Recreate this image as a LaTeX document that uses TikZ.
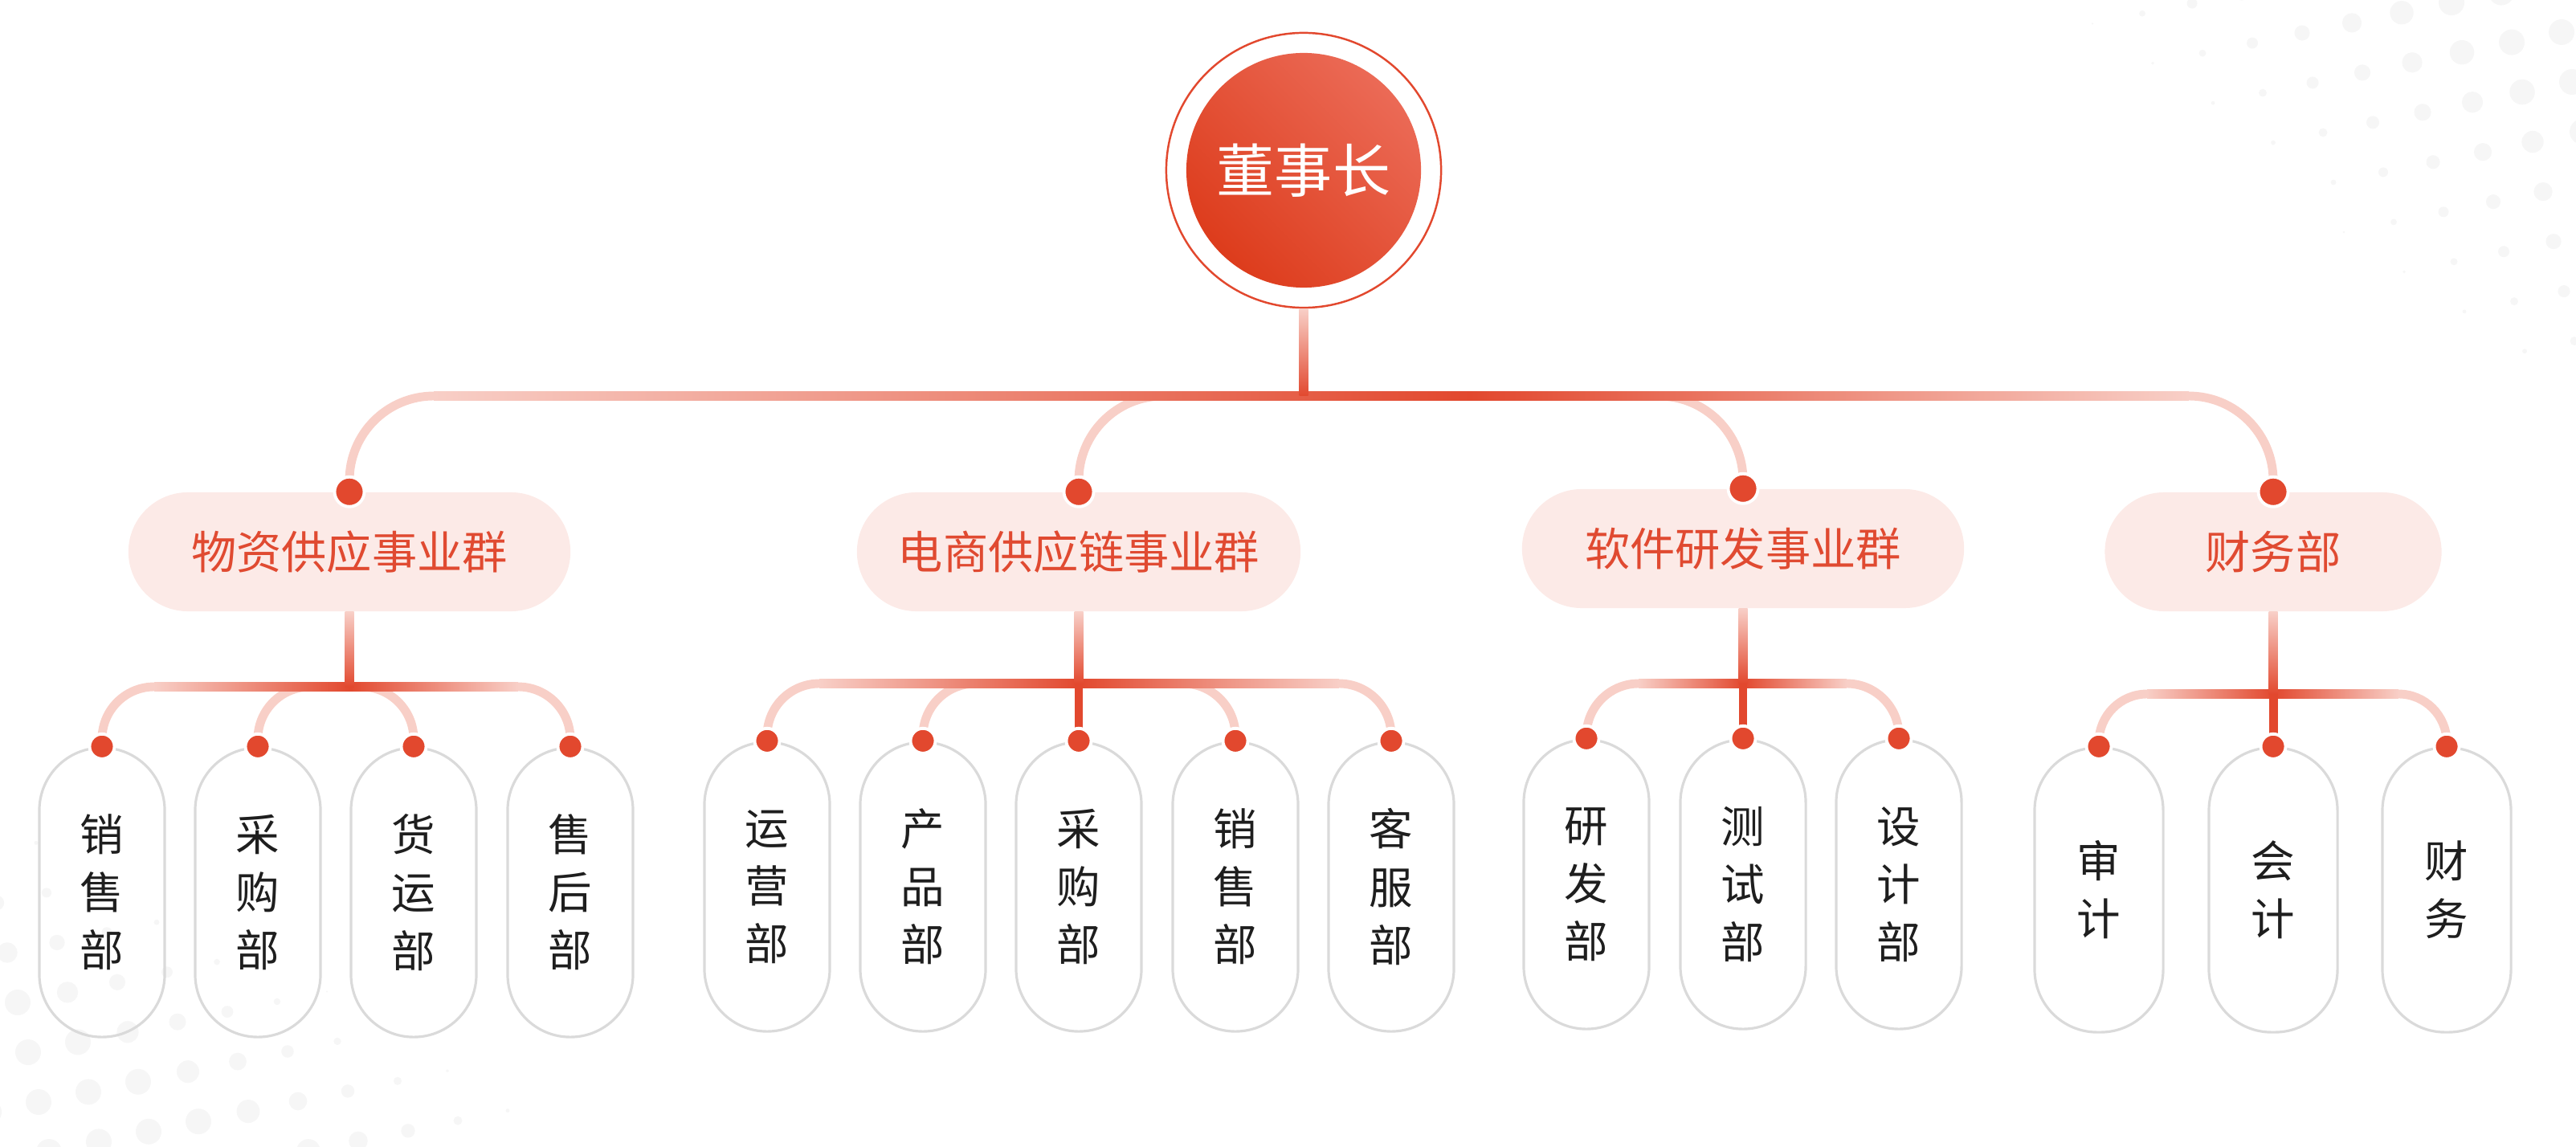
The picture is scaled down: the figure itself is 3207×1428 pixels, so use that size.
\documentclass[tikz,border=0pt]{standalone}
\usepackage{fontspec}
\setmainfont{Noto Sans CJK SC}
\usetikzlibrary{calc}
\definecolor{cred}{HTML}{E2482E}
\definecolor{cpale}{HTML}{F8CFC7}
\definecolor{cfill}{HTML}{FCEAE7}
\definecolor{ctext}{HTML}{E04A31}
\definecolor{cgray}{HTML}{DADADA}
\definecolor{cdot}{HTML}{F6F6F6}
\definecolor{cdark}{HTML}{DD3C1C}
\definecolor{clight}{HTML}{EB6A56}
\definecolor{cleaf}{HTML}{1E1E1E}
\begin{document}
\begin{tikzpicture}[x=0.01cm,y=-0.01cm,
  conn/.style={draw=cpale, line width=3.1pt},
  redconn/.style={draw=cred, line width=3.1pt},
  gpill/.style={rectangle, rounded corners=0.74cm, fill=cfill, minimum height=1.48cm, inner sep=0pt, text=ctext, font=\fontsize{16}{16}\selectfont},
  leafbox/.style={rectangle, rounded corners=0.78cm, draw=cgray, line width=0.9pt, minimum width=1.56cm, minimum height=3.6cm, inner sep=0pt, align=center, text=cleaf, font=\fontsize{15.5}{20.5}\selectfont},
  gdot/.style={circle, fill=cred, draw=white, line width=1.1pt, minimum size=0.37cm, inner sep=0pt},
  ldot/.style={circle, fill=cred, draw=white, line width=1.1pt, minimum size=0.31cm, inner sep=0pt}]
\useasboundingbox (0,0) rectangle (3207,1428);
% background halftone dots
\begin{scope}
\clip (0,0) rectangle (3207,1428);
\foreach \i in {-1,...,12}{
  \foreach \j in {-1,...,13}{
    \pgfmathsetmacro\xx{2530+62*\i+13*\j}
    \pgfmathsetmacro\yy{-20-12.6*\i+62*\j}
    \pgfmathsetmacro\rr{min(16,(\xx-2530-1.2*\yy)/30)}
    \ifdim\rr pt>1pt \fill[cdot] (\xx,\yy) circle[radius=\rr]; \fi
  }}
\foreach \i in {-2,...,12}{
  \foreach \j in {-2,...,10}{
    \pgfmathsetmacro\xx{-30+62*\i+13*\j}
    \pgfmathsetmacro\yy{1000-12.6*\i+62*\j}
    \pgfmathsetmacro\rr{min(16,0.065*((\yy-1000)-0.571*\xx)+1)}
    \ifdim\rr pt>1pt \fill[cdot] (\xx,\yy) circle[radius=\rr]; \fi
  }}
\end{scope}

% root
\node[circle, minimum size=3.42cm, draw=cred, line width=0.7pt, fill=white, inner sep=0pt] (ring) at (1623,212) {};
\node[circle, minimum size=2.92cm, inner sep=0pt, top color=clight, bottom color=cdark, shading angle=-45, text=white, font=\fontsize{20.5}{20.5}\selectfont] (root) at (1623,212) {董事长};

% groups
\node[gpill, minimum width=5.5cm] (g1) at (435,687) {物资供应事业群};
\node[gpill, minimum width=5.52cm] (g2) at (1343,687) {电商供应链事业群};
\node[gpill, minimum width=5.5cm] (g3) at (2170,683) {软件研发事业群};
\node[gpill, minimum width=4.19cm] (g4) at (2830,687) {财务部};

% leaves
\node[leafbox] (l11) at (127,1111) {销\\售\\部};
\node[leafbox] (l12) at (321,1111) {采\\购\\部};
\node[leafbox] (l13) at (515,1111) {货\\运\\部};
\node[leafbox] (l14) at (710,1111) {售\\后\\部};
\node[leafbox] (l21) at (955,1104) {运\\营\\部};
\node[leafbox] (l22) at (1149,1104) {产\\品\\部};
\node[leafbox] (l23) at (1343,1104) {采\\购\\部};
\node[leafbox] (l24) at (1538,1104) {销\\售\\部};
\node[leafbox] (l25) at (1732,1104) {客\\服\\部};
\node[leafbox] (l31) at (1975,1101) {研\\发\\部};
\node[leafbox] (l32) at (2170,1101) {测\\试\\部};
\node[leafbox] (l33) at (2364,1101) {设\\计\\部};
\node[leafbox, minimum width=1.6cm, minimum height=3.54cm] (l41) at (2613,1108) {审\\计};
\node[leafbox, minimum width=1.6cm, minimum height=3.54cm] (l42) at (2830,1108) {会\\计};
\node[leafbox, minimum width=1.6cm, minimum height=3.54cm] (l43) at (3046,1108) {财\\务};

% main connectors
\coordinate (b0) at (1623,493);
\coordinate (b2) at (1480,493);
\coordinate (b3) at (2035,493);
\draw[conn, rounded corners=1.05cm] (g1.north) |- (b0) -| (g4.north);
\draw[conn, rounded corners=1.05cm] (g2.north) |- (b2);
\draw[conn, rounded corners=1.05cm] (g3.north) |- (b3);
\shade[left color=cpale, right color=cred] (540,487.5) rectangle (1830,498.5);
\shade[left color=cred, right color=cpale] (1830,487.5) rectangle (2725,498.5);
\shade[top color=cpale, bottom color=cred] ($(ring.south)+(-5.5,0)$) rectangle ($(b0)+(5.5,0)$);

% group 1
\coordinate (s1) at (435,855);
\draw[conn, rounded corners=0.65cm] (l11.north) |- (s1) -| (l14.north);
\draw[conn, rounded corners=0.65cm] (l12.north) |- (s1) -| (l13.north);
\shade[left color=cpale, right color=cred] (192,849.5) rectangle (435,860.5);
\shade[left color=cred, right color=cpale] (435,849.5) rectangle (645,860.5);
\shade[top color=cpale, bottom color=cred] ($(g1.south)+(-5.5,0)$) rectangle ($(s1)+(5.5,0)$);

% group 2
\coordinate (s2) at (1343,851);
\draw[conn, rounded corners=0.65cm] (l21.north) |- (s2) -| (l25.north);
\draw[conn, rounded corners=0.65cm] (l22.north) |- (s2) -| (l24.north);
\shade[left color=cpale, right color=cred] (1020,845.5) rectangle (1343,856.5);
\shade[left color=cred, right color=cpale] (1343,845.5) rectangle (1667,856.5);
\shade[top color=cpale, bottom color=cred] ($(g2.south)+(-5.5,0)$) rectangle ($(s2)+(5.5,0)$);
\draw[redconn] (s2) -- (l23.north);

% group 3
\coordinate (s3) at (2170,851);
\draw[conn, rounded corners=0.65cm] (l31.north) |- (s3) -| (l33.north);
\shade[left color=cpale, right color=cred] (2040,845.5) rectangle (2170,856.5);
\shade[left color=cred, right color=cpale] (2170,845.5) rectangle (2299,856.5);
\shade[top color=cpale, bottom color=cred] ($(g3.south)+(-5.5,0)$) rectangle ($(s3)+(5.5,0)$);
\draw[redconn] (s3) -- (l32.north);

% group 4
\coordinate (s4) at (2830,864);
\draw[conn, rounded corners=0.6cm] (l41.north) |- (s4) -| (l43.north);
\shade[left color=cpale, right color=cred] (2673,858.5) rectangle (2830,869.5);
\shade[left color=cred, right color=cpale] (2830,858.5) rectangle (2986,869.5);
\shade[top color=cpale, bottom color=cred] ($(g4.south)+(-5.5,0)$) rectangle ($(s4)+(5.5,0)$);
\draw[redconn] (s4) -- (l42.north);

% dots
\foreach \g in {g1,g2,g3,g4}{\node[gdot] at (\g.north) {};}
\foreach \l in {l11,l12,l13,l14,l21,l22,l23,l24,l25,l31,l32,l33,l41,l42,l43}{\node[ldot] at (\l.north) {};}
\end{tikzpicture}
\end{document}
